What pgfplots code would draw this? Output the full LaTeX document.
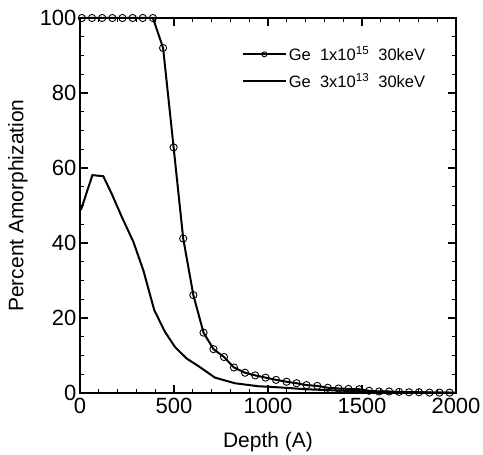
\documentclass[border=0pt]{standalone}
\usepackage{fontspec}
\setmainfont{Liberation Sans}
\usepackage{pgfplots}
\pgfplotsset{compat=1.18}
\begin{document}
\begin{tikzpicture}
\begin{axis}[
  scale only axis,
  width=376pt, height=375pt,
  xmin=0, xmax=2000, ymin=0, ymax=100,
  xtick={0,500,1000,1500,2000},
  ytick={0,20,40,60,80,100},
  minor x tick num=4,
  minor y tick num=3,
  tick align=inside,
  major tick length=8pt,
  minor tick length=4pt,
  axis line style={line width=1.5pt},
  every tick/.style={line width=1.2pt, black},
  /pgf/number format/assume math mode=true,
  /pgf/number format/1000 sep={},
  tick label style={font=\fontsize{22}{26}\selectfont},
  xticklabel style={yshift=-2pt},
  label style={font=\fontsize{21}{25}\selectfont},
  xlabel={Depth (A)},
  ylabel={Percent Amorphization},
  xlabel style={at={(axis description cs:0.5,-0.13)}, anchor=center},
  ylabel style={at={(axis description cs:-0.165,0.5)}, anchor=center},
  clip=false,
  legend style={at={(axis description cs:0.43,0.93)}, anchor=north west, draw=none, fill=none,
    font=\fontsize{16.5}{19}\selectfont, row sep=7pt, inner sep=0pt},
  legend cell align=left,
  legend image code/.code={\draw[mark repeat=2, mark phase=2, #1, mark size=2.5pt] plot coordinates {(0pt,0pt) (21.5pt,0pt) (43pt,0pt)};},
]
\addplot[black, line width=2pt, mark=o, mark size=3.6pt, mark options={line width=0.9pt, fill=none}] coordinates {
(10,100) (64,100) (118,100) (172,100) (226,100) (280,100) (334,100) (388,100)
(442,92) (498,65.5) (549,41.2) (603,26.1) (657,16.1) (710,11.7) (766,9.6)
(819,6.8) (878,5.4) (932,4.7) (987,4.1) (1043,3.5) (1099,3.0) (1152,2.6)
(1205,2.1) (1262,1.9) (1318,1.4) (1375,1.2) (1428,1.1) (1485,1.0) (1538,0.6)
(1591,0.4) (1644,0.4) (1697,0.3) (1750,0.2) (1803,0.2) (1859,0.1) (1912,0.1) (1966,0.1)
};
\addlegendentry{Ge\ \ 1x10\textsuperscript{15}\ \ 30keV}
\addplot[black, line width=2pt, mark=none] coordinates {
(5,48.8) (66,58.1) (124,57.8) (168,53.2) (222,47.0) (284,40.3) (337,32.7)
(395,22.1) (452,16.3) (505,12.3) (567,9.2) (629,7.2) (718,4.1) (824,2.6)
(949,1.8) (1060,1.5) (1200,1.0) (1400,0.6) (1600,0.3) (1800,0.15) (2000,0.1)
};
\addlegendentry{Ge\ \ 3x10\textsuperscript{13}\ \ 30keV}
\end{axis}
\pgfresetboundingbox
\path[use as bounding box] (-80pt,-62pt) rectangle (403pt,393pt);
\end{tikzpicture}
\end{document}
